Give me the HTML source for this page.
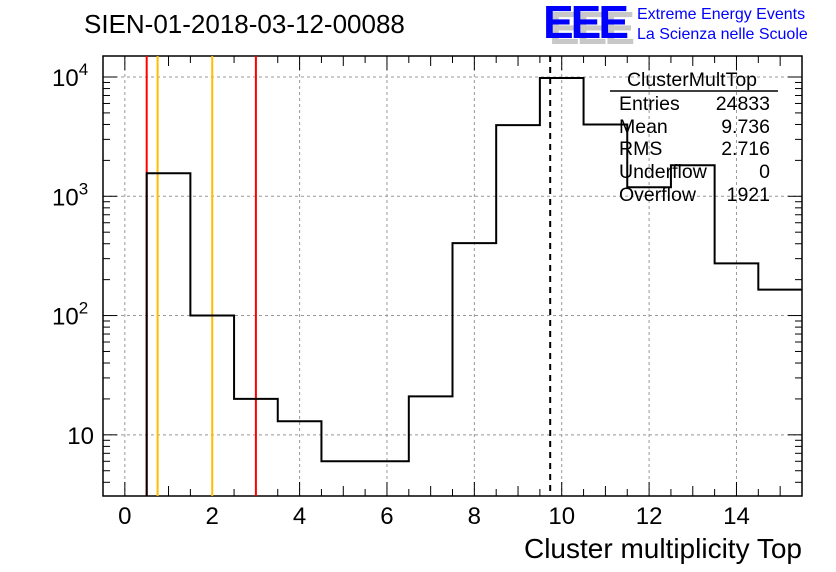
<!DOCTYPE html>
<html><head><meta charset="utf-8"><style>
body{margin:0;background:#fff;}
svg{display:block;font-family:"Liberation Sans",Arial,sans-serif;}
</style></head><body>
<svg id="chart" width="836" height="572">
<g id="grid"></g>
<g id="axes"></g>
<g id="marks"></g>
<text x="84" y="33" font-size="26">SIEN-01-2018-03-12-00088</text>
<g>
<text x="549" y="44" font-size="46" font-weight="bold" fill="#c8c8c8" letter-spacing="-3">EEE</text>
<text x="543" y="38" font-size="46" font-weight="bold" fill="#0000ff" letter-spacing="-3">EEE</text>
<text x="637" y="19" font-size="16" fill="#0000ff">Extreme Energy Events</text>
<text x="637" y="39" font-size="16" fill="#0000ff">La Scienza nelle Scuole</text>
</g>
<g font-size="19.5">
<text x="692" y="86" text-anchor="middle">ClusterMultTop</text>
<line x1="610" y1="91" x2="778" y2="91" stroke="#000" stroke-width="1.5"/>
<text x="619" y="110">Entries</text><text x="770" y="110" text-anchor="end">24833</text>
<text x="619" y="133">Mean</text><text x="770" y="133" text-anchor="end">9.736</text>
<text x="619" y="155">RMS</text><text x="770" y="155" text-anchor="end">2.716</text>
<text x="619" y="178">Underflow</text><text x="770" y="178" text-anchor="end">0</text>
<text x="619" y="201">Overflow</text><text x="770" y="201" text-anchor="end">1921</text>
</g>
<text x="802" y="558" font-size="28" text-anchor="end">Cluster multiplicity Top</text>
</svg>
<script>
const binCenters=[1,2,3,4,5,6,7,8,9,10,11,12,13,14,15];
const binCounts=[1560,100,20,13,6,6,21,405,3950,9800,4000,1190,1820,274,165];
const xTicks=[0,2,4,6,8,10,12,14];
const yDecades=[1,2,3,4];
const redLines=[0.5,3];
const orangeLines=[0.75,2];
const meanValue=9.736;
const NS="http://www.w3.org/2000/svg";
const L=103,R=802,T=56,B=496,xmin=-0.5,xmax=15.5,ymin=Math.log10(3.07),ymax=Math.log10(15000);
const X=v=>L+(v-xmin)/(xmax-xmin)*(R-L);
const Y=v=>B-(Math.log10(v)-ymin)/(ymax-ymin)*(B-T);
function mk(t,a,p){const e=document.createElementNS(NS,t);for(const k in a)e.setAttribute(k,a[k]);p.appendChild(e);return e;}
const grid=document.getElementById('grid'),axes=document.getElementById('axes'),marks=document.getElementById('marks');
xTicks.forEach(v=>{const l=mk('line',{x1:X(v),x2:X(v),y1:T,y2:B,stroke:'#999','stroke-dasharray':'3,3'},grid);
});
yDecades.forEach(d=>{const l=mk('line',{x1:L,x2:R,y1:Y(10**d),y2:Y(10**d),stroke:'#999','stroke-dasharray':'3,3'},grid);
});
const f=mk('rect',{x:L,y:T,width:R-L,height:B-T,fill:'none',stroke:'#000','stroke-width':1.5},axes);

for(let v=-0.5;v<=15.5001;v+=0.5){
const len=Math.abs(v%1)<1e-6?(Math.round(v)%2===0?14:10):7;const x=X(v);
mk('line',{x1:x,x2:x,y1:B,y2:B-len,stroke:'#000','stroke-width':1},axes);
mk('line',{x1:x,x2:x,y1:T,y2:T+len,stroke:'#000','stroke-width':1},axes);}
xTicks.forEach(v=>{const t=mk('text',{x:X(v),y:B+28,'font-size':24,'text-anchor':'middle'},axes);t.textContent=v;
});
for(let d=0;d<=4;d++){for(let m=1;m<=9;m++){const v=m*10**d;if(v<3.07||v>15000)continue;const y=Y(v);const len=m===1?14:7;
mk('line',{x1:L,x2:L+len,y1:y,y2:y,stroke:'#000'},axes);mk('line',{x1:R,x2:R-len,y1:y,y2:y,stroke:'#000'},axes);}}
yDecades.forEach(d=>{const y=Y(10**d);const t=mk('text',{x:d===1?94:52,y:y+9,'font-size':24,'text-anchor':d===1?'end':'start'},axes);

if(d===1)t.textContent='10';else{t.textContent='10';const s=mk('tspan',{dy:-11,'font-size':17},t);s.textContent=d;}});
redLines.forEach(v=>{const l=mk('line',{x1:X(v),x2:X(v),y1:T,y2:B,stroke:'#ff0000','stroke-width':2},marks);
});
orangeLines.forEach(v=>{const l=mk('line',{x1:X(v),x2:X(v),y1:T,y2:B,stroke:'#ffbf00','stroke-width':2},marks);
});
const ml=mk('line',{x1:X(meanValue),x2:X(meanValue),y1:T,y2:B,stroke:'#000','stroke-width':2,'stroke-dasharray':'6,5'},marks);

let d='M'+X(binCenters[0]-0.5)+','+B;
binCenters.forEach((c,i)=>{const y=Math.max(T,Y(binCounts[i]));d+=' L'+X(c-0.5)+','+y+' L'+Math.min(R,X(c+0.5))+','+y;});
const p=mk('path',{d:d,fill:'none',stroke:'#000','stroke-width':2},marks);

</script>
</body></html>
